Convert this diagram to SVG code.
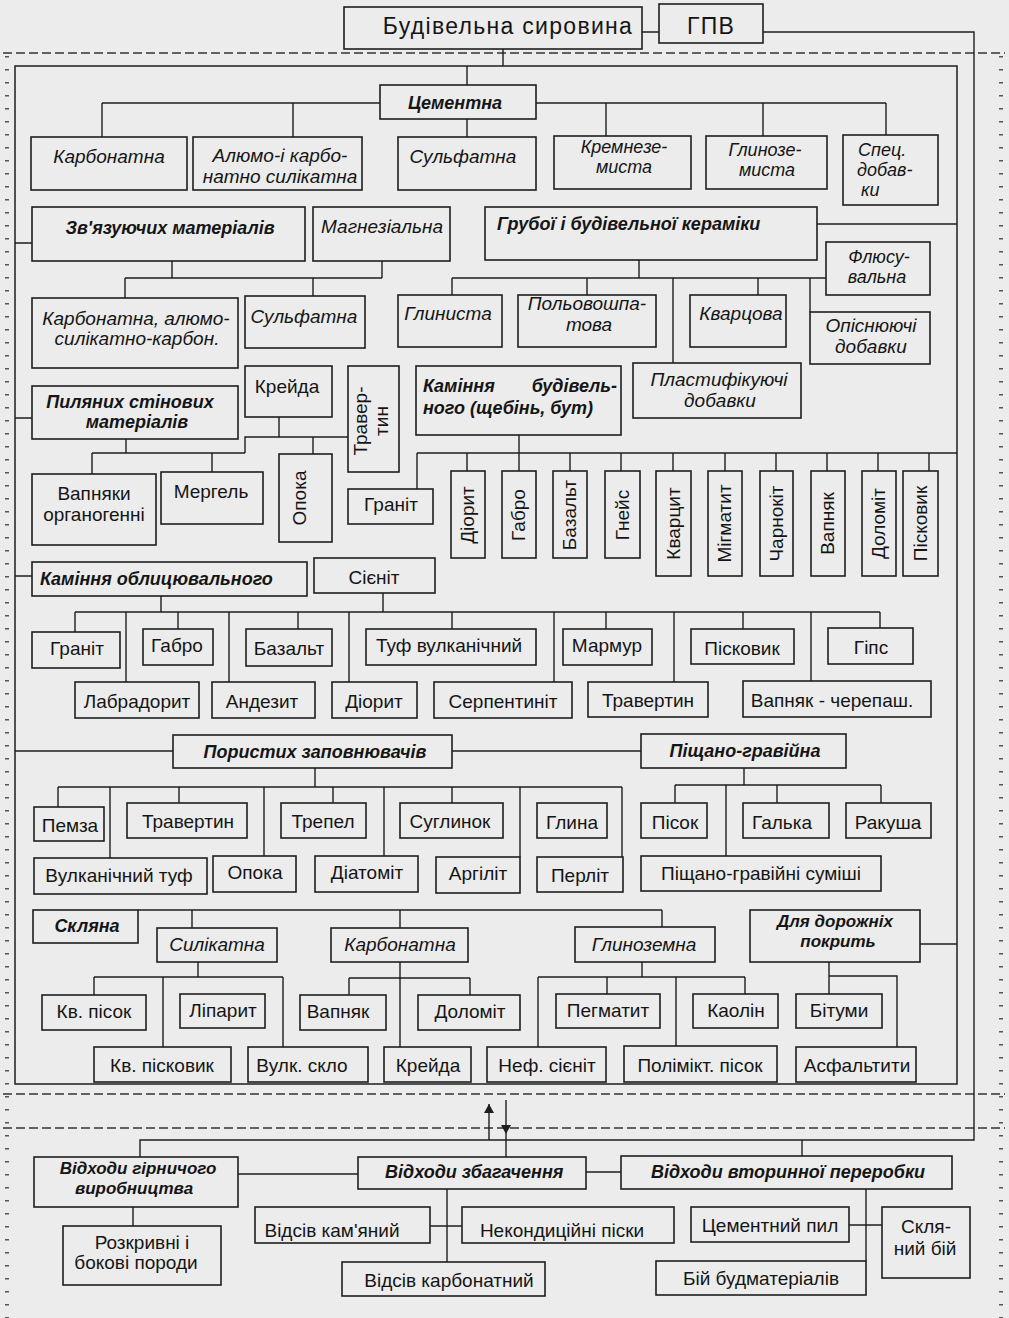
<svg xmlns="http://www.w3.org/2000/svg" width="1009" height="1318" viewBox="0 0 1009 1318">
<defs>
<marker id="ah" markerUnits="userSpaceOnUse" markerWidth="9" markerHeight="10" refX="9" refY="5" orient="auto"><path d="M0,0 L9,5 L0,10 z" fill="#1e1e1e"/></marker>
</defs>
<style>
rect.n{fill:#ececec;stroke:#1e1e1e;stroke-width:1.6}
.c path,.c line{stroke:#1e1e1e;stroke-width:1.4;fill:none}
.frame{fill:none;stroke:#1e1e1e;stroke-width:1.5}
.dash{stroke:#333;stroke-width:1.3;stroke-dasharray:9 4;fill:none}
.dots{stroke:#555;stroke-width:4;stroke-dasharray:1.5 11.5;fill:none}
text{font-family:"Liberation Sans",Arial,sans-serif;fill:#151515}
.t{font-size:19px}
.i{font-size:19px;font-style:italic}
.i2{font-size:18px;font-style:italic}
.b{font-size:18px;font-style:italic;font-weight:bold}
.b2{font-size:17px;font-style:italic;font-weight:bold}
.m{text-anchor:middle}
.ttl{font-size:23px;letter-spacing:1.3px}
</style>
<rect x="0" y="0" width="1009" height="1318" fill="#ececec"/>

<g id="boundaries">
<path class="dash" d="M3,53 H1005 M3,1094 H1005 M3,1128 H1005"/>
<path class="dots" d="M7,56 V1318 M1001,56 V1318"/>
<rect class="frame" x="15" y="66" width="942" height="1018"/>
</g>

<g class="c" id="connectors">
<path d="M503,49 V66 M467,66 V85 M642,32 H659"/>
<path d="M763,32 H974 V1140 H140 V1157 M802,1140 V1156"/>
<line x1="489" y1="1140" x2="489" y2="1104" marker-end="url(#ah)"/>
<line x1="506" y1="1100" x2="506" y2="1134" marker-end="url(#ah)"/>
<path d="M506,1134 V1157"/>
<path d="M102,103 H380 M536,103 H886 M102,103 V137 M293,103 V137 M467,119 V137 M606,103 V136 M763,103 V136 M886,103 V135"/>
<path d="M15,243 H32 M172,261 V278 M382,261 V278 M125,278 H382 M125,278 V298 M313,278 V296"/>
<path d="M817,224 H957 M639,260 V278 M452,278 H826 M452,278 V295 M587,278 V295 M673,278 V363 M758,278 V295 M810,278 V312"/>
<path d="M15,418 H32 M126,439 V453 M92,453 H245 M92,453 V474 M212,453 V472 M245,453 V437 H348 M279,417 V437 M313,437 V454"/>
<path d="M519,435 V453 M417,453 H957 M417,453 V489 M467,453 V471 M519,453 V471 M570,453 V471 M621,453 V471 M673,453 V471 M725,453 V471 M776,453 V471 M827,453 V471 M878,453 V471 M929,453 V471"/>
<path d="M15,576 H32 M161,596 V612 M383,593 V612 M75,612 H880 M75,612 V632 M126,612 V682 M178,612 V629 M229,612 V682 M298,612 V629 M349,612 V682 M452,612 V629 M554,612 V682 M606,612 V629 M674,612 V682 M743,612 V629 M811,612 V681 M880,612 V628"/>
<path d="M15,751 H173 M452,751 H641 M315,768 V787 M58,787 H622 M58,787 V807 M110,787 V858 M179,787 V803 M264,787 V856 M333,787 V803 M384,787 V856 M452,787 V803 M520,787 V857 M622,787 V857"/>
<path d="M744,768 V785 M675,785 H881 M675,785 V803 M726,785 V856 M777,785 V803 M881,785 V803"/>
<path d="M138,910 H662 M192,910 V928 M400,910 V928 M662,910 V927"/>
<path d="M198,962 V977 M94,977 H283 M94,977 V995 M163,977 V1047 M283,977 V1047"/>
<path d="M400,962 V1047 M349,978 H470 M349,978 V995 M470,978 V995"/>
<path d="M642,962 V977 M538,977 H745 M538,977 V1047 M607,977 V994 M676,977 V1046 M745,977 V994"/>
<path d="M920,944 H957 M829,962 V994 M829,976 H897 V1047"/>
<path d="M238,1174 H358 M586,1172 H621 M133,1207 V1226 M447,1189 V1262 M430,1226 H462 M866,1189 V1261 M849,1225 H882"/>
</g>

<g id="n-title"><rect class="n" x="344" y="7" width="298" height="42"/><text class="ttl m" x="508" y="34">Будівельна сировина</text></g>
<g id="n-gpv"><rect class="n" x="659" y="4" width="104" height="39"/><text class="ttl m" x="711" y="34">ГПВ</text></g>

<g id="n-cem"><rect class="n" x="380" y="85" width="156" height="34"/><text class="b m" x="455" y="109">Цементна</text></g>
<g id="n-cem-karb"><rect class="n" x="31" y="137" width="156" height="53"/><text class="i m" x="109" y="163">Карбонатна</text></g>
<g id="n-cem-alumo"><rect class="n" x="193" y="137" width="169" height="53"/><text class="i m"><tspan x="280" y="162">Алюмо-і карбо-</tspan><tspan x="280" y="183">натно силікатна</tspan></text></g>
<g id="n-cem-sulf"><rect class="n" x="398" y="137" width="138" height="53"/><text class="i m" x="463" y="163">Сульфатна</text></g>
<g id="n-cem-kremn"><rect class="n" x="554" y="136" width="137" height="53"/><text class="i2 m"><tspan x="624" y="153">Кремнезе-</tspan><tspan x="624" y="173">миста</tspan></text></g>
<g id="n-cem-glin"><rect class="n" x="706" y="136" width="121" height="53"/><text class="i2 m"><tspan x="765" y="156">Глинозе-</tspan><tspan x="767" y="176">миста</tspan></text></g>
<g id="n-cem-spec"><rect class="n" x="843" y="135" width="95" height="70"/><text class="i2"><tspan x="858" y="156">Спец.</tspan><tspan x="857" y="176">добав-</tspan><tspan x="861" y="196">ки</tspan></text></g>

<g id="n-zv"><rect class="n" x="32" y="207" width="273" height="54"/><text class="b m" x="170" y="234">Зв'язуючих матеріалів</text></g>
<g id="n-magn"><rect class="n" x="313" y="207" width="137" height="54"/><text class="i m" x="382" y="233">Магнезіальна</text></g>
<g id="n-zv-karb"><rect class="n" x="32" y="298" width="206" height="70"/><text class="i m"><tspan x="136" y="325">Карбонатна, алюмо-</tspan><tspan x="137" y="345">силікатно-карбон.</tspan></text></g>
<g id="n-zv-sulf"><rect class="n" x="245" y="296" width="120" height="52"/><text class="i m" x="304" y="323">Сульфатна</text></g>

<g id="n-gruboi"><rect class="n" x="485" y="207" width="332" height="53"/><text class="b" x="497" y="230">Грубої і будівельної кераміки</text></g>
<g id="n-flus"><rect class="n" x="826" y="242" width="104" height="53"/><text class="i2 m"><tspan x="879" y="263">Флюсу-</tspan><tspan x="877" y="283">вальна</tspan></text></g>
<g id="n-glyn"><rect class="n" x="398" y="295" width="104" height="52"/><text class="i m" x="448" y="320">Глиниста</text></g>
<g id="n-polyov"><rect class="n" x="518" y="295" width="138" height="52"/><text class="i m"><tspan x="587" y="310">Польовошпа-</tspan><tspan x="589" y="331">това</tspan></text></g>
<g id="n-kvarc"><rect class="n" x="690" y="295" width="96" height="52"/><text class="i m" x="741" y="320">Кварцова</text></g>
<g id="n-opisn"><rect class="n" x="810" y="312" width="120" height="52"/><text class="i m"><tspan x="871" y="332">Опіснюючі</tspan><tspan x="871" y="353">добавки</tspan></text></g>
<g id="n-plast"><rect class="n" x="633" y="363" width="168" height="55"/><text class="i m"><tspan x="719" y="386">Пластифікуючі</tspan><tspan x="720" y="407">добавки</tspan></text></g>

<g id="n-pyl"><rect class="n" x="32" y="386" width="206" height="53"/><text class="b m"><tspan x="130" y="408">Пиляних стінових</tspan><tspan x="137" y="428">матеріалів</tspan></text></g>
<g id="n-kreida"><rect class="n" x="245" y="366" width="87" height="51"/><text class="t m" x="287" y="393">Крейда</text></g>
<g id="n-travertin-v"><rect class="n" x="348" y="366" width="51" height="106"/><text class="t m" transform="translate(373.5,421) rotate(-90)"><tspan x="0" y="-6.5">Травер-</tspan><tspan x="0" y="14.5">тин</tspan></text></g>
<g id="n-kamin-bud"><rect class="n" x="416" y="366" width="205" height="69"/><text class="b" x="423" y="392">Каміння</text><text class="b" x="617" y="392" text-anchor="end">будівель-</text><text class="b" x="423" y="414">ного (щебінь, бут)</text></g>

<g id="n-vapn-org"><rect class="n" x="32" y="474" width="124" height="71"/><text class="t m"><tspan x="94" y="500">Вапняки</tspan><tspan x="94" y="521">органогенні</tspan></text></g>
<g id="n-mergel"><rect class="n" x="161" y="472" width="102" height="52"/><text class="t m" x="211" y="498">Мергель</text></g>
<g id="n-opoka-v"><rect class="n" x="279" y="454" width="53" height="88"/><text class="t m" transform="translate(305.5,498) rotate(-90)" x="0" y="0">Опока</text></g>
<g id="n-granit-b"><rect class="n" x="348" y="489" width="85" height="35"/><text class="t m" x="391" y="511">Граніт</text></g>
<g id="n-diorit-v"><rect class="n" x="451" y="471" width="34" height="87"/><text class="t m" transform="translate(468,515) rotate(-90)" x="0" y="6">Діорит</text></g>
<g id="n-gabro-v"><rect class="n" x="502" y="471" width="34" height="87"/><text class="t m" transform="translate(519,515) rotate(-90)" x="0" y="6">Габро</text></g>
<g id="n-bazalt-v"><rect class="n" x="553" y="471" width="34" height="87"/><text class="t m" transform="translate(570,515) rotate(-90)" x="0" y="6">Базальт</text></g>
<g id="n-gneis-v"><rect class="n" x="605" y="471" width="35" height="87"/><text class="t m" transform="translate(622.5,515) rotate(-90)" x="0" y="6">Гнейс</text></g>
<g id="n-kvarcyt-v"><rect class="n" x="656" y="471" width="35" height="105"/><text class="t m" transform="translate(673.5,523.5) rotate(-90)" x="0" y="6">Кварцит</text></g>
<g id="n-migmatyt-v"><rect class="n" x="708" y="471" width="34" height="105"/><text class="t m" transform="translate(725,523.5) rotate(-90)" x="0" y="6">Мігматит</text></g>
<g id="n-charnokit-v"><rect class="n" x="760" y="471" width="33" height="105"/><text class="t m" transform="translate(776.5,523.5) rotate(-90)" x="0" y="6">Чарнокіт</text></g>
<g id="n-vapniak-v"><rect class="n" x="811" y="471" width="34" height="105"/><text class="t m" transform="translate(828,523.5) rotate(-90)" x="0" y="6">Вапняк</text></g>
<g id="n-dolomit-v"><rect class="n" x="862" y="471" width="34" height="105"/><text class="t m" transform="translate(879,523.5) rotate(-90)" x="0" y="6">Доломіт</text></g>
<g id="n-piskovyk-v"><rect class="n" x="903" y="471" width="35" height="105"/><text class="t m" transform="translate(920.5,523.5) rotate(-90)" x="0" y="6">Пісковик</text></g>

<g id="n-kamin-obl"><rect class="n" x="32" y="562" width="275" height="34"/><text class="b" x="40" y="585">Каміння облицювального</text></g>
<g id="n-sienit"><rect class="n" x="314" y="558" width="121" height="35"/><text class="t m" x="374" y="584">Сієніт</text></g>
<g id="n-f-granit"><rect class="n" x="32" y="632" width="88" height="36"/><text class="t m" x="77" y="655">Граніт</text></g>
<g id="n-f-gabro"><rect class="n" x="143" y="629" width="70" height="36"/><text class="t m" x="177" y="652">Габро</text></g>
<g id="n-f-bazalt"><rect class="n" x="246" y="629" width="86" height="37"/><text class="t m" x="289" y="655">Базальт</text></g>
<g id="n-f-tuf"><rect class="n" x="366" y="629" width="170" height="36"/><text class="t m" x="449" y="652">Туф вулканічний</text></g>
<g id="n-f-marmur"><rect class="n" x="563" y="629" width="89" height="36"/><text class="t m" x="607" y="652">Мармур</text></g>
<g id="n-f-piskovyk"><rect class="n" x="691" y="629" width="103" height="35"/><text class="t m" x="742" y="655">Пісковик</text></g>
<g id="n-f-gips"><rect class="n" x="828" y="628" width="85" height="36"/><text class="t m" x="871" y="654">Гіпс</text></g>
<g id="n-f-labrador"><rect class="n" x="75" y="682" width="124" height="36"/><text class="t m" x="137" y="708">Лабрадорит</text></g>
<g id="n-f-andezyt"><rect class="n" x="212" y="682" width="103" height="36"/><text class="t m" x="262" y="708">Андезит</text></g>
<g id="n-f-diorit"><rect class="n" x="332" y="682" width="85" height="36"/><text class="t m" x="374" y="708">Діорит</text></g>
<g id="n-f-serpent"><rect class="n" x="434" y="682" width="138" height="36"/><text class="t m" x="503" y="708">Серпентиніт</text></g>
<g id="n-f-travertin"><rect class="n" x="588" y="682" width="120" height="35"/><text class="t m" x="648" y="707">Травертин</text></g>
<g id="n-f-vapn-cher"><rect class="n" x="743" y="681" width="188" height="36"/><text class="t m" x="832" y="707">Вапняк - черепаш.</text></g>

<g id="n-porist"><rect class="n" x="173" y="735" width="279" height="33"/><text class="b m" x="315" y="758">Пористих заповнювачів</text></g>
<g id="n-pisch-grav"><rect class="n" x="641" y="734" width="205" height="34"/><text class="b m" x="745" y="757">Піщано-гравійна</text></g>
<g id="n-pemza"><rect class="n" x="34" y="807" width="70" height="34"/><text class="t m" x="70" y="832">Пемза</text></g>
<g id="n-p-travertin"><rect class="n" x="127" y="803" width="120" height="35"/><text class="t m" x="188" y="828">Травертин</text></g>
<g id="n-trepel"><rect class="n" x="281" y="803" width="85" height="35"/><text class="t m" x="323" y="828">Трепел</text></g>
<g id="n-suglynok"><rect class="n" x="400" y="803" width="103" height="35"/><text class="t m" x="450" y="828">Суглинок</text></g>
<g id="n-glyna"><rect class="n" x="537" y="803" width="70" height="35"/><text class="t m" x="572" y="829">Глина</text></g>
<g id="n-vulk-tuf"><rect class="n" x="34" y="858" width="173" height="36"/><text class="t m" x="119" y="882">Вулканічний туф</text></g>
<g id="n-p-opoka"><rect class="n" x="213" y="856" width="83" height="36"/><text class="t m" x="255" y="879">Опока</text></g>
<g id="n-diatomit"><rect class="n" x="315" y="856" width="103" height="36"/><text class="t m" x="367" y="879">Діатоміт</text></g>
<g id="n-argilit"><rect class="n" x="436" y="857" width="84" height="36"/><text class="t m" x="478" y="880">Аргіліт</text></g>
<g id="n-perlit"><rect class="n" x="537" y="857" width="86" height="35"/><text class="t m" x="580" y="882">Перліт</text></g>
<g id="n-pisok"><rect class="n" x="641" y="803" width="66" height="35"/><text class="t m" x="675" y="829">Пісок</text></g>
<g id="n-galka"><rect class="n" x="743" y="803" width="86" height="35"/><text class="t m" x="782" y="829">Галька</text></g>
<g id="n-rakusha"><rect class="n" x="846" y="803" width="85" height="35"/><text class="t m" x="888" y="829">Ракуша</text></g>
<g id="n-pgs"><rect class="n" x="641" y="856" width="240" height="35"/><text class="t m" x="761" y="880">Піщано-гравійні суміші</text></g>

<g id="n-sklyana"><rect class="n" x="33" y="910" width="105" height="33"/><text class="b m" x="87" y="932">Скляна</text></g>
<g id="n-sylikatna"><rect class="n" x="157" y="928" width="120" height="34"/><text class="i m" x="217" y="951">Силікатна</text></g>
<g id="n-s-karbonatna"><rect class="n" x="331" y="928" width="137" height="34"/><text class="i m" x="400" y="951">Карбонатна</text></g>
<g id="n-glynozemna"><rect class="n" x="575" y="927" width="140" height="35"/><text class="i m" x="644" y="951">Глиноземна</text></g>
<g id="n-dorozh"><rect class="n" x="750" y="910" width="170" height="52"/><text class="b2 m"><tspan x="835" y="927">Для дорожніх</tspan><tspan x="838" y="947">покрить</tspan></text></g>
<g id="n-kv-pisok"><rect class="n" x="42" y="995" width="104" height="35"/><text class="t m" x="94" y="1018">Кв. пісок</text></g>
<g id="n-liparyt"><rect class="n" x="180" y="994" width="85" height="34"/><text class="t m" x="223" y="1017">Ліпарит</text></g>
<g id="n-s-vapniak"><rect class="n" x="300" y="995" width="86" height="35"/><text class="t m" x="338" y="1018">Вапняк</text></g>
<g id="n-s-dolomit"><rect class="n" x="418" y="995" width="102" height="35"/><text class="t m" x="470" y="1018">Доломіт</text></g>
<g id="n-pegmatyt"><rect class="n" x="556" y="994" width="104" height="34"/><text class="t m" x="608" y="1017">Пегматит</text></g>
<g id="n-kaolin"><rect class="n" x="693" y="994" width="85" height="34"/><text class="t m" x="736" y="1017">Каолін</text></g>
<g id="n-bitumy"><rect class="n" x="796" y="994" width="86" height="34"/><text class="t m" x="839" y="1017">Бітуми</text></g>
<g id="n-kv-piskovyk"><rect class="n" x="94" y="1047" width="137" height="35"/><text class="t m" x="162" y="1072">Кв. пісковик</text></g>
<g id="n-vulk-sklo"><rect class="n" x="248" y="1047" width="120" height="35"/><text class="t m" x="302" y="1072">Вулк. скло</text></g>
<g id="n-s-kreida"><rect class="n" x="384" y="1047" width="87" height="35"/><text class="t m" x="428" y="1072">Крейда</text></g>
<g id="n-nef-sienit"><rect class="n" x="487" y="1047" width="119" height="35"/><text class="t m" x="547" y="1072">Неф. сієніт</text></g>
<g id="n-polimikt"><rect class="n" x="624" y="1046" width="153" height="36"/><text class="t m" x="700" y="1072">Полімікт. пісок</text></g>
<g id="n-asfaltyty"><rect class="n" x="796" y="1047" width="120" height="35"/><text class="t m" x="857" y="1072">Асфальтити</text></g>

<g id="n-vidh-girn"><rect class="n" x="34" y="1157" width="204" height="50"/><text class="b2 m"><tspan x="138" y="1174">Відходи гірничого</tspan><tspan x="134" y="1194">виробництва</tspan></text></g>
<g id="n-vidh-zbag"><rect class="n" x="358" y="1157" width="228" height="32"/><text class="b" x="385" y="1178">Відходи збагачення</text></g>
<g id="n-vidh-vtor"><rect class="n" x="621" y="1156" width="331" height="33"/><text class="b m" x="788" y="1178">Відходи вторинної переробки</text></g>
<g id="n-rozkryvni"><rect class="n" x="63" y="1226" width="158" height="59"/><text class="t m"><tspan x="142" y="1249">Розкривні і</tspan><tspan x="136" y="1269">бокові породи</tspan></text></g>
<g id="n-vidsiv-kam"><rect class="n" x="255" y="1207" width="175" height="36"/><text class="t m" x="332" y="1237">Відсів кам'яний</text></g>
<g id="n-nekond"><rect class="n" x="462" y="1207" width="212" height="36"/><text class="t m" x="562" y="1237">Некондиційні піски</text></g>
<g id="n-vidsiv-karb"><rect class="n" x="342" y="1262" width="203" height="34"/><text class="t m" x="449" y="1287">Відсів карбонатний</text></g>
<g id="n-cem-pyl"><rect class="n" x="691" y="1207" width="158" height="35"/><text class="t m" x="770" y="1232">Цементний пил</text></g>
<g id="n-sklo-bii"><rect class="n" x="882" y="1207" width="88" height="71"/><text class="t m"><tspan x="926" y="1233">Скля-</tspan><tspan x="925" y="1255">ний бій</tspan></text></g>
<g id="n-bii-bud"><rect class="n" x="656" y="1261" width="210" height="34"/><text class="t m" x="761" y="1285">Бій будматеріалів</text></g>
</svg>
